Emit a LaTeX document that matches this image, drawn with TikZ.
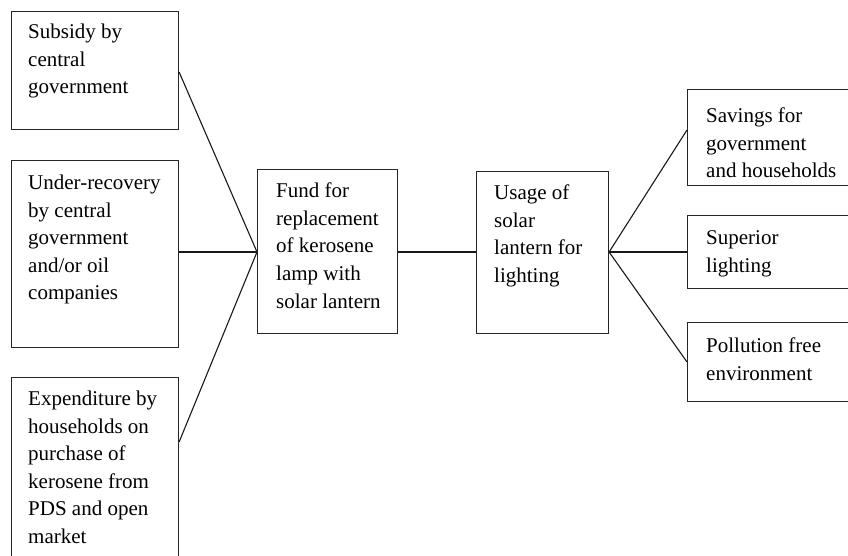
\documentclass[tikz,border=0pt]{standalone}
\usepackage{fontspec}
\setmainfont{Liberation Serif}
\usetikzlibrary{calc}
\tikzset{
  stage/.style={draw=black!85, line width=1.1pt, rectangle, inner sep=0pt, anchor=north west},
  stagetext/.style={anchor=north west, inner sep=0pt, align=left,
    font=\fontsize{21}{27.6}\selectfont, text=black, yshift=14.3pt},
  link/.style={draw=black!90, line width=1.1pt}
}
\newcommand\stagebox[5]{% name, left, top, right, bottom
  \node[stage, minimum width=#4pt-#2pt, minimum height=#5pt-#3pt] (#1) at (#2,#3) {};}
\begin{document}
\begin{tikzpicture}[x=1pt,y=-1pt]
\useasboundingbox (0,0) rectangle (848,555);
\fill[white] (0,0) rectangle (848,555);

% sources
\stagebox{src1}{11}{11}{178}{129}
\stagebox{src2}{11}{160}{178}{347}
\stagebox{src3}{11}{377}{178}{575}
% fund and usage
\stagebox{fund}{257}{169}{397}{333}
\stagebox{usage}{476}{171}{608}{333}
% outcomes
\stagebox{out1}{687}{89}{860}{185}
\stagebox{out2}{687}{215}{860}{288}
\stagebox{out3}{687}{322}{860}{401}

% texts, placed by the baseline of their first line
\node[stagetext] (t1) at (28,38) {Subsidy by\\central\\government};
\node[stagetext] (t2) at (28,189) {Under-recovery\\by central\\government\\and/or oil\\companies};
\node[stagetext] (t3) at (28,405) {Expenditure by\\households on\\purchase of\\kerosene from\\PDS and open\\market};
\node[stagetext] (t4) at (276,197) {Fund for\\replacement\\of kerosene\\lamp with\\solar lantern};
\node[stagetext] (t5) at (494,199) {Usage of\\solar\\lantern for\\lighting};
\node[stagetext] (t6) at (706,122) {Savings for\\government\\and households};
\node[stagetext] (t7) at (706,245) {Superior\\lighting};
\node[stagetext] (t8) at (706,352) {Pollution free\\environment};

% connectors
\coordinate (fin) at (fund.north west |- 0,252);
\coordinate (uout) at (usage.north east |- 0,252);
\draw[link] (src1.north east |- 0,72) -- (fin);
\draw[link] (src2.north east |- 0,252) -- (fin);
\draw[link] (src3.north east |- 0,442) -- (fin);
\draw[link] (fund.north east |- 0,252) -- (usage.north west |- 0,252);
\draw[link] (uout) -- (out1.north west |- 0,130);
\draw[link] (uout) -- (out2.north west |- 0,252);
\draw[link] (uout) -- (out3.north west |- 0,362);
\end{tikzpicture}
\end{document}
